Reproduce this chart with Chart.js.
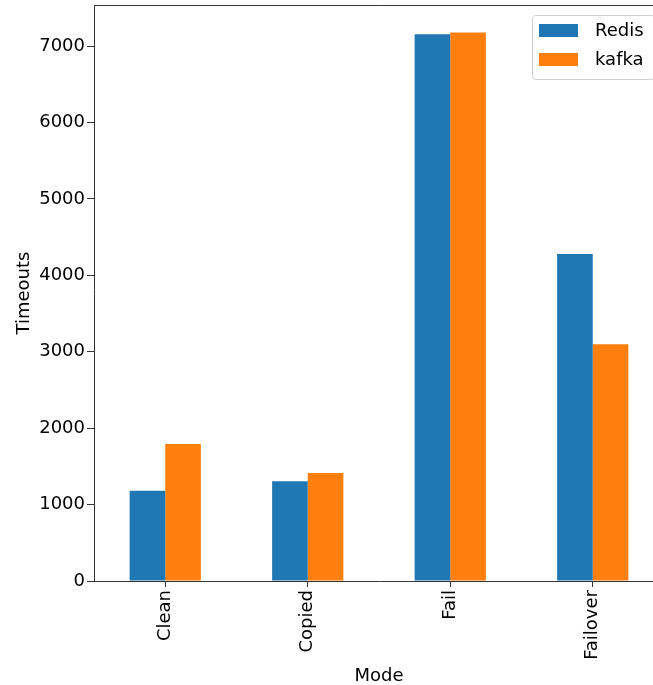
<!DOCTYPE html>
<html>
<head>
<meta charset="utf-8">
<title>Timeouts by Mode</title>
<script src="https://cdn.jsdelivr.net/npm/chart.js@4.4.1/dist/chart.umd.min.js"></script>
<style>
  html, body { margin: 0; padding: 0; background: #fff; overflow: hidden; }
  #wrap { width: 670px; height: 685px; }
</style>
</head>
<body>
<div id="wrap"><canvas id="chart" width="670" height="685"></canvas></div>
<script>
// --- data ---
const modes = ['Clean', 'Copied', 'Fail', 'Failover'];
const redis = [1182, 1305, 7156, 4280];
const kafka = [1793, 1414, 7180, 3098];
const yTicks = [0, 1000, 2000, 3000, 4000, 5000, 6000, 7000];
const Y_MAX = 7539; // matplotlib leaves 5% headroom over the tallest bar

const FONT = 'DejaVu Sans';
const INK = '#333';

// top / right spines (the box around the axes)
const framePlugin = {
  id: 'frame',
  afterDatasetsDraw(chart) {
    const {ctx, chartArea: a} = chart;
    ctx.save();
    ctx.strokeStyle = INK;
    ctx.lineWidth = 1;
    ctx.beginPath();
    ctx.moveTo(a.left, a.top + 0.5);
    ctx.lineTo(a.right + 0.5, a.top + 0.5);
    ctx.lineTo(a.right + 0.5, a.bottom);
    ctx.stroke();
    ctx.restore();
  }
};

// legend inside the axes, upper right
const boxLegend = {
  id: 'boxLegend',
  afterDraw(chart) {
    const {ctx, chartArea: a} = chart;
    const w = 122, h = 64;
    const x = a.right - 10 - w, y = a.top + 10;
    ctx.save();
    ctx.fillStyle = 'rgba(255,255,255,0.8)';
    ctx.strokeStyle = '#d0d0d0';
    ctx.lineWidth = 1;
    ctx.beginPath();
    ctx.roundRect(x + 0.5, y + 0.5, w, h, 3);
    ctx.fill();
    ctx.stroke();
    ctx.font = `18px "${FONT}"`;
    ctx.textBaseline = 'middle';
    chart.data.datasets.forEach((ds, i) => {
      const cy = y + 16 + i * 29;
      ctx.fillStyle = ds.backgroundColor;
      ctx.fillRect(x + 7, cy - 7, 39, 13);
      ctx.fillStyle = '#000';
      ctx.fillText(ds.label, x + 63, cy);
    });
    ctx.restore();
  }
};

// --- chart ---
new Chart(document.getElementById('chart'), {
  type: 'bar',
  data: {
    labels: modes,
    datasets: [
      { label: 'Redis', data: redis, backgroundColor: '#1f77b4' },
      { label: 'kafka', data: kafka, backgroundColor: '#ff7f0e' }
    ]
  },
  options: {
    responsive: false,
    animation: false,
    devicePixelRatio: 1,
    layout: { padding: { top: 5, right: 6, left: 0, bottom: 0 } },
    datasets: { bar: { categoryPercentage: 0.5, barPercentage: 1, borderWidth: 0 } },
    plugins: { legend: { display: false }, tooltip: { enabled: false } },
    scales: {
      x: {
        grid: { drawOnChartArea: false, offset: false, tickLength: 6, tickColor: INK },
        border: { color: INK },
        ticks: {
          color: '#000', font: { family: FONT, size: 18 },
          minRotation: 90, maxRotation: 90, padding: 3
        },
        title: {
          display: true, text: 'Mode', color: '#000',
          font: { family: FONT, size: 18, lineHeight: 1 }, padding: 0
        },
        afterFit(s) { s.height = 104; }
      },
      y: {
        min: 0,
        max: Y_MAX,
        afterBuildTicks(s) { s.ticks = yTicks.map(v => ({ value: v })); },
        grid: { drawOnChartArea: false, tickLength: 7, tickColor: INK },
        border: { color: INK },
        ticks: { color: '#000', font: { family: FONT, size: 18 }, padding: 2, callback: v => String(v) },
        title: {
          display: true, text: 'Timeouts', color: '#000',
          font: { family: FONT, size: 18, lineHeight: 1 }, padding: { top: 15, bottom: 0 }
        },
        afterFit(s) {
          s.width = 94;
          s.paddingTop = 0;   // top tick (7000) sits well below the axes top
          s.paddingBottom = 0;
        }
      }
    }
  },
  plugins: [framePlugin, boxLegend]
});
</script>
</body>
</html>
